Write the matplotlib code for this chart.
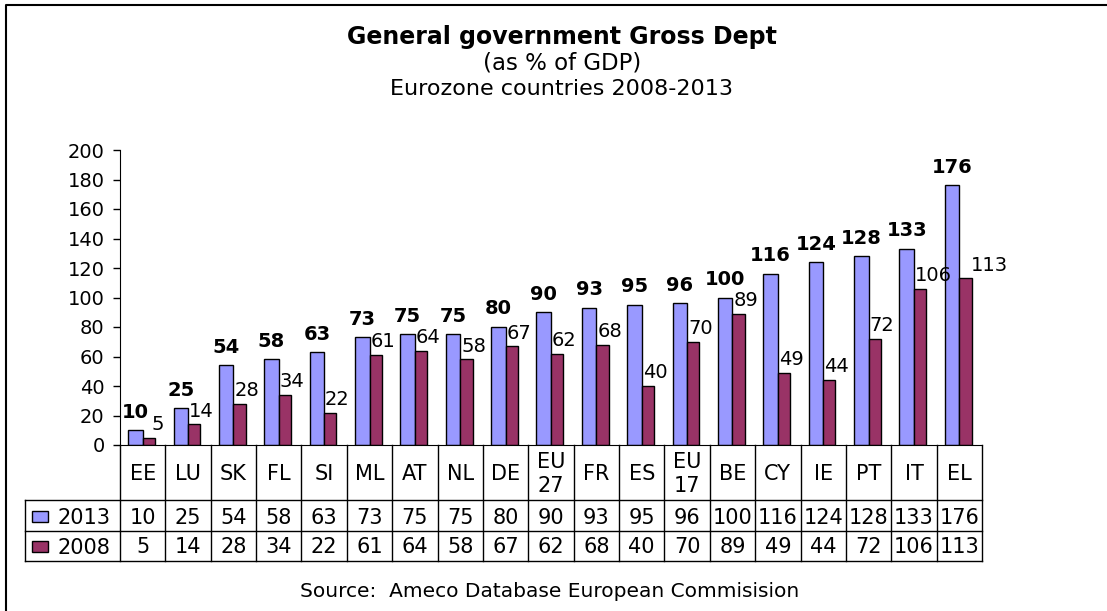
import numpy as np
import matplotlib
matplotlib.use("Agg")
import matplotlib.pyplot as plt
from matplotlib.transforms import blended_transform_factory
from matplotlib.patches import Rectangle
from matplotlib.lines import Line2D

countries = ['EE', 'LU', 'SK', 'FL', 'SI', 'ML', 'AT', 'NL', 'DE', 'EU\n27',
             'FR', 'ES', 'EU\n17', 'BE', 'CY', 'IE', 'PT', 'IT', 'EL']
debt_2013 = [10, 25, 54, 58, 63, 73, 75, 75, 80, 90, 93, 95, 96, 100, 116, 124, 128, 133, 176]
debt_2008 = [5, 14, 28, 34, 22, 61, 64, 58, 67, 62, 68, 40, 70, 89, 49, 44, 72, 106, 113]
years = ['2013', '2008']
colors = ['#9999FF', '#993366']

plt.rcParams['font.family'] = ['DejaVu Sans']

W, H = 1107, 611
fig = plt.figure(figsize=(W / 100, H / 100), dpi=100)

# plot area in pixels: x 120..982, y 150..445
ax = fig.add_axes([120 / W, 1 - 445 / H, 862 / W, 295 / H])
n = len(countries)
x = np.arange(n)
ax.bar(x, debt_2013, width=-0.32, align='edge', color=colors[0], edgecolor='black', linewidth=1)
ax.bar(x, debt_2008, width=0.27, align='edge', color=colors[1], edgecolor='black', linewidth=1)
ax.set_xlim(-0.5, n - 0.5)
ax.set_ylim(0, 200)
ax.set_yticks(range(0, 201, 20))
ax.set_xticks([])
ax.tick_params(axis='y', direction='out', length=5, width=1, pad=6, labelsize=14)
for s in ['top', 'right']:
    ax.spines[s].set_visible(False)

# data labels
nudge = {'EE': 0.2, 'EL': 0.25}
for i, v in enumerate(debt_2013):
    ax.annotate(str(v), (i - 0.16, v), xytext=(0, 9), textcoords='offset points',
                ha='center', va='baseline', fontsize=14, fontweight='bold')
for i, v in enumerate(debt_2008):
    ax.annotate(str(v), (i + nudge.get(countries[i], 0.02), v), xytext=(0, 5.5),
                textcoords='offset points', ha='left', va='baseline', fontsize=14)

# data table under the axis
tr = blended_transform_factory(ax.transData, ax.transAxes)
ppu = 862 / n


def ay(py):
    return (445 - py) / 295


x_leg = -0.5 - 95 / ppu
line_kw = dict(transform=tr, clip_on=False, color='black', linewidth=1)
for py in [500, 531, 561]:
    ax.plot([x_leg, n - 0.5], [ay(py)] * 2, **line_kw)
for k in range(n + 1):
    ax.plot([k - 0.5] * 2, [ay(445), ay(561)], **line_kw)
ax.plot([x_leg] * 2, [ay(500), ay(561)], **line_kw)

for i, c in enumerate(countries):
    ax.text(i, ay(474), c, transform=tr, ha='center', va='center', fontsize=15, linespacing=1.2)
    ax.text(i, ay(523.5), str(debt_2013[i]), transform=tr, ha='center', va='baseline', fontsize=15)
    ax.text(i, ay(553), str(debt_2008[i]), transform=tr, ha='center', va='baseline', fontsize=15)

for row, (yr, col) in enumerate(zip(years, colors)):
    yc = [516, 546][row]
    ax.add_patch(Rectangle((-0.5 - 88 / ppu, ay(yc + 5.5)), 16 / ppu, 11 / 295, transform=tr,
                           clip_on=False, facecolor=col, edgecolor='black', linewidth=1))
    ax.text(-0.5 - 63 / ppu, ay(yc + 7.5), yr, transform=tr, ha='left', va='baseline', fontsize=15)

# titles and source
cx = 562 / W
fig.text(cx, 1 - 44 / H, 'General government Gross Dept', ha='center', va='baseline',
         fontsize=17, fontweight='bold')
fig.text(cx, 1 - 69.5 / H, '(as % of GDP)', ha='center', va='baseline', fontsize=16.5)
fig.text(cx, 1 - 95 / H, 'Eurozone countries 2008-2013', ha='center', va='baseline', fontsize=16)
fig.text(550 / W, 1 - 597 / H, 'Source:  Ameco Database European Commisision', ha='center',
         va='baseline', fontsize=14.5)

# chart area frame
fig.add_artist(Line2D([6 / W, 6 / W, 1], [0, 1 - 5 / H, 1 - 5 / H], transform=fig.transFigure,
                      color='black', linewidth=1.5))

fig.savefig('out.png', dpi=100)
